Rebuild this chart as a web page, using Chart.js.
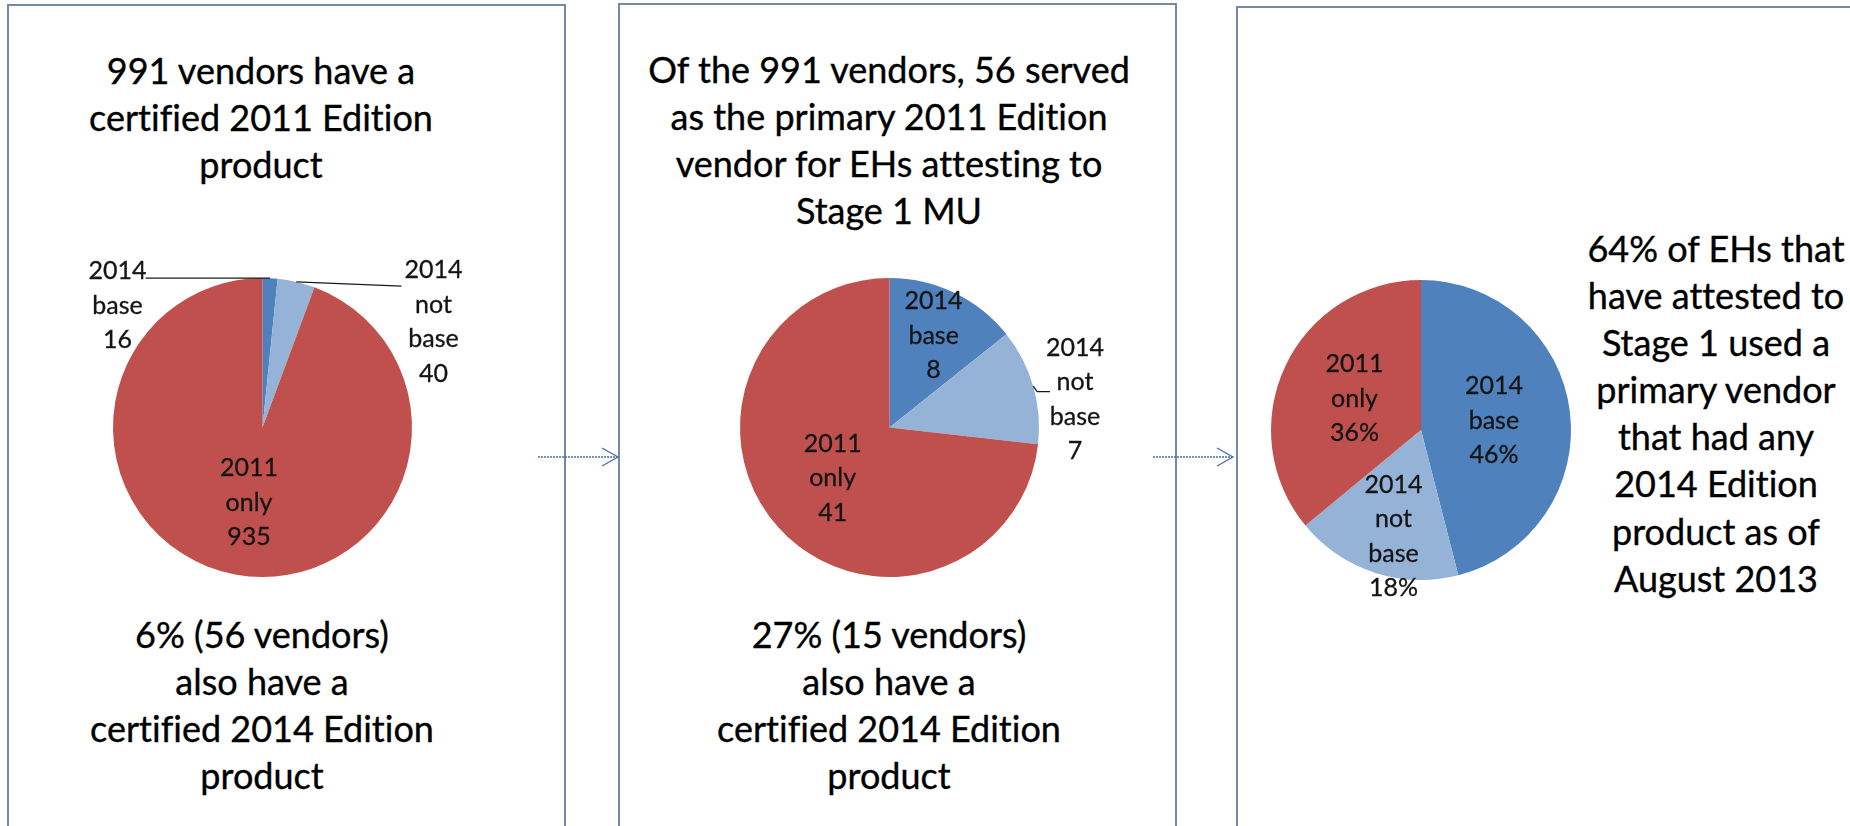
<!DOCTYPE html>
<html>
<head>
<meta charset="utf-8">
<script src="https://cdn.jsdelivr.net/npm/chart.js@4/dist/chart.umd.min.js"></script>
<style>
  html, body { margin: 0; padding: 0; background: #fff; }
  body { width: 1850px; height: 826px; overflow: hidden; position: relative; font-family: Lato, "Open Sans", sans-serif; font-variant-ligatures: none; }
  .panel { position: absolute; box-sizing: border-box; border: 2px solid #7389A8; background: #fff; }
  .txt { position: absolute; text-align: center; font-size: 36px; line-height: 47px; color: #000; white-space: nowrap; -webkit-text-stroke: 0.35px #000; font-variant-ligatures: none; font-feature-settings: "liga" 0, "clig" 0; }
  canvas { position: absolute; }
  svg { position: absolute; left: 0; top: 0; }
</style>
</head>
<body>
<div class="panel" style="left:7px;top:4px;width:559px;height:900px;"></div>
<div class="panel" style="left:618px;top:3px;width:559px;height:900px;"></div>
<div class="panel" style="left:1236px;top:6px;width:700px;height:900px;"></div>

<div class="txt" style="left:-39px;top:47px;width:600px;">991 vendors have a<br>certified 2011 Edition<br>product</div>
<div class="txt" style="left:-38px;top:611px;width:600px;">6% (56 vendors)<br>also have a<br>certified 2014 Edition<br>product</div>
<div class="txt" style="left:589px;top:46px;width:600px;">Of the 991 vendors, 56 served<br>as the primary 2011 Edition<br>vendor for EHs attesting to<br>Stage 1 MU</div>
<div class="txt" style="left:589px;top:611px;width:600px;">27% (15 vendors)<br>also have a<br>certified 2014 Edition<br>product</div>
<div class="txt" style="left:1516px;top:225px;width:400px;line-height:47.1px;">64% of EHs that<br>have attested to<br>Stage 1 used a<br>primary vendor<br>that had any<br>2014 Edition<br>product as of<br>August 2013</div>

<canvas id="pie1"></canvas>
<canvas id="pie2"></canvas>
<canvas id="pie3"></canvas>

<svg width="1850" height="826">
  <g stroke="#4A6DA6" stroke-width="1.3" fill="none">
    <line x1="538" y1="457" x2="617" y2="457" stroke-dasharray="2 1"/>
    <polyline points="602,448 618,457 602,466"/>
    <line x1="1153" y1="457" x2="1232" y2="457" stroke-dasharray="2 1"/>
    <polyline points="1217,448 1233,457 1217,466"/>
  </g>
</svg>

<script>
// ---- data ----
const categories = ['2014 base', '2014 not base', '2011 only'];
const vendorCounts = [16, 40, 935];          // 991 vendors with a certified 2011 Edition product
const primaryVendorCounts = [8, 7, 41];      // 56 primary 2011 Edition vendors for EHs
const ehSharePct = [46, 18, 36];             // % of EHs attesting to Stage 1
const sliceColors = ['#4F81BD', '#95B3D7', '#C0504D'];

// ---- label plugin ----
const pieLabels = {
  id: 'pieLabels',
  afterDatasetsDraw(chart, args, opts) {
    const ctx = chart.ctx;
    const meta = chart.getDatasetMeta(0);
    const ds = chart.data.datasets[0];
    ctx.save();
    ctx.font = opts.font;
    ctx.fillStyle = '#141414';
    ctx.strokeStyle = '#141414';
    ctx.textAlign = 'center';
    ctx.textBaseline = 'middle';
    meta.data.forEach((arc, i) => {
      const p = opts.place[i];
      const R = arc.outerRadius;
      const mid = (arc.startAngle + arc.endAngle) / 2;
      let ax, ay;
      if (p.pos) { ax = arc.x + p.pos[0] * R; ay = arc.y + p.pos[1] * R; }
      else { ax = arc.x + Math.cos(mid) * R * p.k; ay = arc.y + Math.sin(mid) * R * p.k; }
      ax += p.dx || 0; ay += p.dy || 0;
      const lines = chart.data.labels[i].split(' ').concat([ds.data[i] + (opts.suffix || '')]);
      const lh = opts.lineHeight;
      ctx.lineWidth = 0.3;
      lines.forEach((t, j) => {
        const ty = ay + (j - (lines.length - 1) / 2) * lh;
        ctx.fillText(t, ax, ty);
        ctx.strokeText(t, ax, ty);
      });
      if (p.leader) {
        const sx = arc.x + Math.cos(mid) * R, sy = arc.y + Math.sin(mid) * R;
        const ex = ax + p.leader[0], ey = ay + p.leader[1];
        ctx.strokeStyle = '#1a1a1a';
        ctx.lineWidth = 1.3;
        ctx.beginPath();
        ctx.moveTo(sx, sy);
        if (p.elbow) ctx.lineTo(sx + 4, ey);
        ctx.lineTo(ex, ey);
        ctx.stroke();
        ctx.strokeStyle = '#141414';
      }
    });
    ctx.restore();
  }
};

function makePie(id, values, cx, cy, r, px, py, labelOpts) {
  const cv = document.getElementById(id);
  const w = 2 * (r + px), h = 2 * (r + py);
  cv.width = w; cv.height = h;
  cv.style.width = w + 'px'; cv.style.height = h + 'px';
  cv.style.left = (cx - w / 2) + 'px';
  cv.style.top = (cy - h / 2) + 'px';
  return new Chart(cv, {
    type: 'pie',
    data: {
      labels: categories,
      datasets: [{ data: values, backgroundColor: sliceColors, borderWidth: 0 }]
    },
    options: {
      responsive: false,
      animation: false,
      layout: { padding: { left: px, right: px, top: py, bottom: py } },
      plugins: {
        legend: { display: false },
        tooltip: { enabled: false },
        pieLabels: Object.assign({ font: '25px Lato, sans-serif', lineHeight: 34.5 }, labelOpts)
      }
    },
    plugins: [pieLabels]
  });
}

makePie('pie1', vendorCounts, 262, 427.5, 149.5, 190, 70, {
  place: [
    { pos: [-0.97, -0.815], leader: [28, -27.5] },
    { pos: [1.144, -0.705], leader: [-32, -36] },
    { k: 0.51 }
  ]
});
makePie('pie2', primaryVendorCounts, 889.5, 427, 149.5, 230, 70, {
  place: [
    { k: 0.68 },
    { pos: [1.241, -0.187], leader: [-25, -8], elbow: true },
    { k: 0.51 }
  ]
});
makePie('pie3', ehSharePct, 1421, 430, 150, 20, 60, {
  suffix: '%',
  place: [
    { k: 0.49 },
    { k: 0.745, dx: 7 },
    { k: 0.49 }
  ]
});
</script>
</body>
</html>
